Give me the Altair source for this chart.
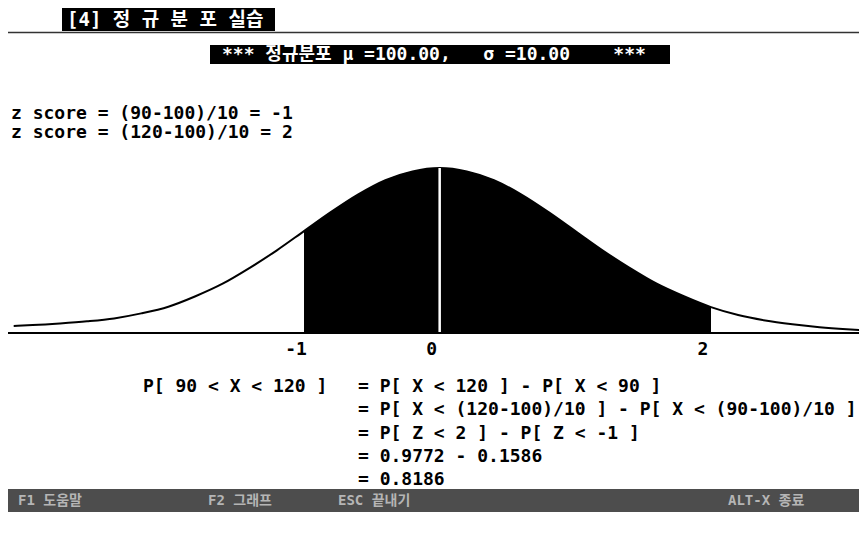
import altair as alt
import pandas as pd

# ---- data ----
Z = [-3.14, -3.0, -2.8, -2.6, -2.4, -2.2, -2.0, -1.8, -1.6, -1.4, -1.2, -1.0,
     -0.8, -0.6, -0.4, -0.2, 0.0, 0.2, 0.4, 0.6, 0.8, 1.0, 1.2, 1.4, 1.6, 1.8,
     2.0, 2.2, 2.4, 2.6, 2.8, 3.0, 3.1]
DENS = [0.017, 0.019, 0.023, 0.028, 0.035, 0.047, 0.063, 0.088, 0.118, 0.156,
        0.198, 0.244, 0.290, 0.332, 0.366, 0.387, 0.395, 0.387, 0.366, 0.332,
        0.290, 0.244, 0.198, 0.156, 0.118, 0.088, 0.062, 0.043, 0.030, 0.021,
        0.014, 0.009, 0.007]
SHADE_FROM = -1.0
SHADE_TO = 2.0
MEAN_Z = 0.0
BASELINE = [0.0]
TICKS = [-1, 0, 2]
TICK_LABELS = ["-1", "0", "2"]

NB = "\u00a0"
TITLE = "[4] 정 규 분 포 실습"
SUBTITLE = "*** 정규분포 μ =100.00," + NB * 3 + "σ =10.00" + NB * 4 + "***"
ZLINES = ["z score = (90-100)/10 = -1", "z score = (120-100)/10 = 2"]
LEFT_EQ = "P[ 90 < X < 120 ]"
RIGHT_EQ = [
    "= P[ X < 120 ] - P[ X < 90 ]",
    "= P[ X < (120-100)/10 ] - P[ X < (90-100)/10 ]",
    "= P[ Z < 2 ] - P[ Z < -1 ]",
    "= 0.9772 - 0.1586",
    "= 0.8186",
]
STATUS = ["F1 도움말", "F2 그래프", "ESC 끝내기", "ALT-X 종료"]

MONO = "DejaVu Sans Mono, Noto Sans CJK KR"
W, H = 851, 527

curve = pd.DataFrame({"z": Z, "d": DENS})
ticks = pd.DataFrame({"z": TICKS, "lab": TICK_LABELS})
basedf = pd.DataFrame({"y0": BASELINE})
one = alt.Data(values=[{}])

xs = alt.Scale(domain=[-3.182, 3.091], nice=False, zero=False)
ys = alt.Scale(domain=[-0.4836, 0.7781], nice=False, zero=False)


def label(txt, x, y, size=18, color="black", align="left"):
    return alt.Chart(one).mark_text(
        text=txt, align=align, baseline="middle", fontSize=size, font=MONO,
        fontWeight="bold", color=color
    ).encode(x=alt.value(x), y=alt.value(y))


def box(x, x2, y, y2, color="black"):
    return alt.Chart(one).mark_rect(color=color).encode(
        x=alt.value(x), x2=alt.value(x2), y=alt.value(y), y2=alt.value(y2))


base = alt.Chart(curve)

area = base.mark_area(color="black", interpolate="monotone", clip=True).encode(
    x=alt.X("z:Q", scale=xs, axis=None),
    y=alt.Y("d:Q", scale=ys, axis=None),
).transform_filter(
    (alt.datum.z >= SHADE_FROM) & (alt.datum.z <= SHADE_TO)
)

line = base.mark_line(color="black", strokeWidth=2, interpolate="monotone",
                      clip=True).encode(
    x=alt.X("z:Q", scale=xs, axis=None),
    y=alt.Y("d:Q", scale=ys, axis=None),
)

mean_rule = base.mark_rule(color="white", strokeWidth=2.5).transform_filter(
    alt.datum.z == MEAN_Z
).transform_calculate(y0=str(BASELINE[0])).encode(
    x=alt.X("z:Q", scale=xs, axis=None),
    y=alt.Y("y0:Q", scale=ys, axis=None),
    y2="d:Q",
)

axis_line = alt.Chart(basedf).mark_rule(color="black", strokeWidth=2).encode(
    y=alt.Y("y0:Q", scale=ys, axis=None))

tick_text = alt.Chart(ticks).mark_text(
    fontSize=18, font=MONO, fontWeight="bold", baseline="middle", dx=-8
).encode(x=alt.X("z:Q", scale=xs, axis=None), y=alt.value(342), text="lab:N")

layers = [
    # title bar
    box(54, 267, 0, 23),
    alt.Chart(one).mark_rule(color="#333333", strokeWidth=1.5).encode(
        x=alt.value(0), x2=alt.value(W), y=alt.value(24.5)),
    label(TITLE, 59, 11.5, size=19, color="white"),
    # subtitle
    box(202, 662, 37, 56),
    label(SUBTITLE, 214, 46.5, size=18, color="white"),
    # z score lines
    label(ZLINES[0], 3, 105.5),
    label(ZLINES[1], 3, 124.5),
    # curve
    area, line, mean_rule, axis_line, tick_text,
    # formula
    label(LEFT_EQ, 135, 379),
]
for i, t in enumerate(RIGHT_EQ):
    layers.append(label(t, 350, [379, 402, 426, 449, 472][i]))

# status bar
layers.append(box(0, W, 481, 504, color="#4d4d4d"))
for t, x in zip(STATUS, [10, 200, 330, 720]):
    layers.append(label(t, x, 492.5, size=14, color="#b5b5b5"))

chart = alt.layer(*layers).properties(
    width=W, height=H, padding=0, background="white",
    autosize=alt.AutoSizeParams(type="none"),
).configure_view(stroke=None)

chart.save("out.html", embed_options={"renderer": "svg", "actions": False})
